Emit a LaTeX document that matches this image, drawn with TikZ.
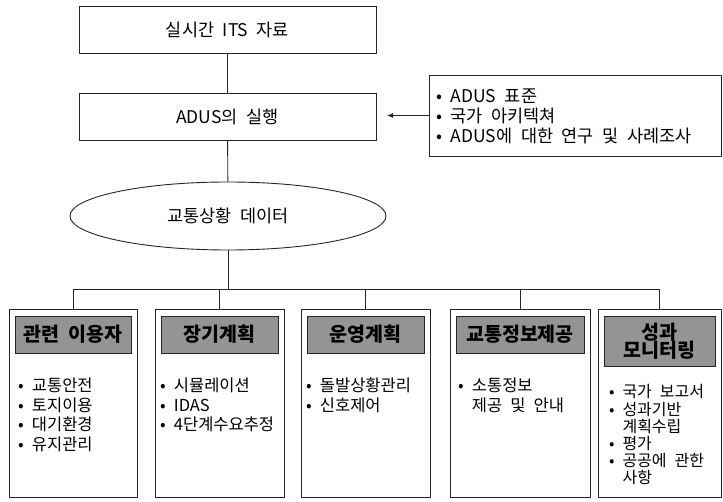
\documentclass[tikz,border=0pt]{standalone}
\usepackage{fontspec}
\setmainfont{Noto Sans CJK KR}[WordSpace=2.2]
\usetikzlibrary{shapes.geometric,arrows.meta}
\newcommand{\lst}[1]{\begin{tabular}[t]{@{}l@{}}#1\end{tabular}}
\begin{document}
\begin{tikzpicture}[x=1pt,y=-1pt,
  line/.style={draw=black!85,line width=0.9pt},
  topbox/.style={line,rectangle,minimum width=297pt,minimum height=47pt,inner sep=0pt,font=\fontsize{17.5}{20}\selectfont},
  refbox/.style={line,rectangle,minimum width=292pt,minimum height=81pt,inner sep=0pt},
  databox/.style={line,rectangle,minimum height=188pt,inner sep=0pt},
  head/.style={line,rectangle,fill=black!42,inner sep=0pt,font=\fontsize{19.5}{21}\bfseries\selectfont,align=center},
  items/.style={anchor=base west,inner sep=0pt,font=\fontsize{16.5}{19.3}\selectfont},
  itemstight/.style={anchor=base west,inner sep=0pt,font=\fontsize{16}{12.9}\selectfont},
  reftext/.style={anchor=base west,inner sep=0pt,font=\fontsize{17.5}{18}\selectfont}
]
\useasboundingbox (0,0) rectangle (723,502);

% top chain
\node[topbox] (top) at (227.5,29.5) {실시간 ITS 자료};
\node[topbox] (adus) at (227.5,116.5) {ADUS의 실행};
\node[refbox] (ref) at (575,115.5) {};
\node[reftext] (reft) at (436,102.5) {\lst{• ADUS 표준\\• 국가 아키텍쳐\\• ADUS에 대한 연구 및 사례조사}};
\coordinate (tip) at (387,115.5);
\draw[line,-{Latex[length=6pt,width=5pt]}] (ref.west) -- (tip);

\node[line,ellipse,minimum width=316pt,minimum height=68pt,inner sep=0pt,font=\fontsize{17.5}{20}\selectfont] (ell) at (228,216) {교통상황 데이터};

\draw[line] (top) -- (adus);
\draw[line] (adus) -- (ell);

% bottom boxes
\node[databox,minimum width=128pt] (b1) at (73,403) {};
\node[databox,minimum width=129pt] (b2) at (219.5,403) {};
\node[databox,minimum width=129pt] (b3) at (365.5,403) {};
\node[databox,minimum width=140pt] (b4) at (520,403) {};
\node[databox,minimum width=123pt] (b5) at (659.5,403) {};

% headers
\node[head,minimum width=116pt,minimum height=37pt] (h1) at (73,334.5) {관련 이용자};
\node[head,minimum width=117pt,minimum height=37pt] (h2) at (219.5,334.5) {장기계획};
\node[head,minimum width=117pt,minimum height=37pt] (h3) at (365.5,334.5) {운영계획};
\node[head,minimum width=128pt,minimum height=37pt] (h4) at (520,334.5) {교통정보제공};
\node[head,minimum width=111pt,minimum height=50pt] (h5) at (659.5,341) {성과\\[-3pt]모니터링};

% bus
\draw[line] (b1.north) -- ++(0,-19) coordinate (bl) -| (b5.north);
\draw[line] (b2.north) -- (b2.north |- bl);
\draw[line] (b3.north) -- (b3.north |- bl);
\draw[line] (b4.north) -- (b4.north |- bl);
\draw[line] (ell.south) -- (ell.south |- bl);

% items
\node[items] (t1) at (18,392) {\lst{• 교통안전\\• 토지이용\\• 대기환경\\• 유지관리}};
\node[items] (t2) at (160,392) {\lst{• 시뮬레이션\\• IDAS\\• 4단계수요추정}};
\node[items] (t3) at (306,392) {\lst{• 돌발상황관리\\• 신호제어}};
\node[items] (t4) at (458,392) {\lst{• 소통정보\\\phantom{• }제공 및 안내}};
\node[itemstight] (t5) at (609,398) {\lst{• 국가 보고서\\• 성과기반\\\phantom{• }계획수립\\• 평가\\• 공공에 관한\\\phantom{• }사항}};
\end{tikzpicture}
\end{document}
